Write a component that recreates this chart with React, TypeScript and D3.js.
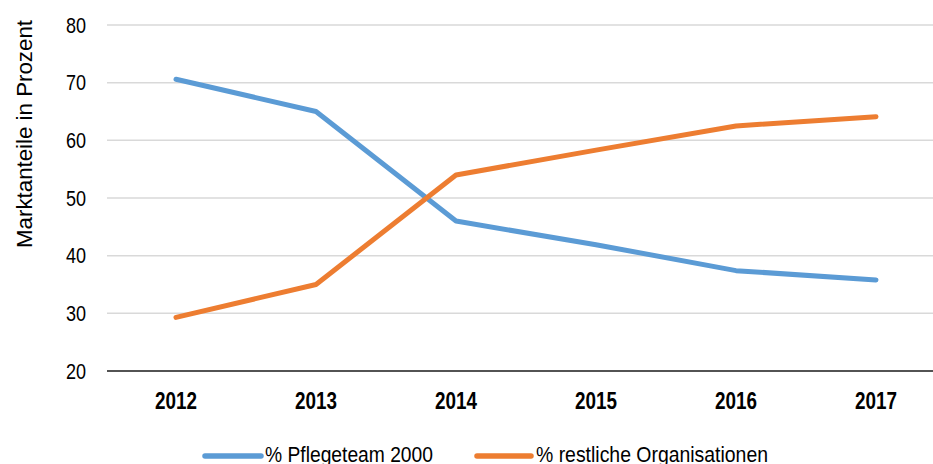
import React from "react";
import * as d3 from "d3";

const years = ["2012", "2013", "2014", "2015", "2016", "2017"];
const pflegeteam = [70.6, 65.0, 46.0, 41.9, 37.4, 35.8];
const restliche = [29.3, 35.0, 54.0, 58.3, 62.5, 64.1];
const yTicks = [20, 30, 40, 50, 60, 70, 80];
const seriesNames = ["% Pflegeteam 2000", "% restliche Organisationen"];
const colors = ["#5B9BD5", "#ED7D31"];

const W = 933;
const H = 464;
const FONT = "'Liberation Sans', Arial, sans-serif";
const SX = 0.82;

function NText({ x, y, anchor = "start", size = 22, bold = false, rotate = 0, len, children }: any) {
  return (
    <g transform={`translate(${x},${y}) rotate(${rotate}) scale(${len ? 1 : SX},1)`}>
      <text
        x={0}
        y={0}
        dy="0.35em"
        textAnchor={anchor}
        fontSize={size}
        fontWeight={bold ? "bold" : "normal"}
        fill="#000"
        textLength={len}
        lengthAdjust={len ? "spacingAndGlyphs" : undefined}
      >
        {children}
      </text>
    </g>
  );
}

export default function App() {
  const x = d3.scaleBand<string>().domain(years).range([106, 946]);
  const y = d3.scaleLinear().domain([20, 80]).range([371, 25]);
  const cx = (yr: string) => (x(yr) as number) + x.bandwidth() / 2;
  const line = d3
    .line<number>()
    .x((_, i) => cx(years[i]))
    .y((d) => y(d));
  const series = [pflegeteam, restliche];
  const legendLine = [
    [205, 261],
    [477, 531],
  ];
  const legendText = [
    [265, 168],
    [536, 232],
  ];
  return (
    <svg
      width={W}
      height={H}
      style={{ position: "absolute", left: 0, top: 0, background: "#fff" }}
      fontFamily={FONT}
    >
      {yTicks.map((t) =>
        t === 20 ? null : (
          <line key={t} x1={107} x2={W} y1={y(t)} y2={y(t)} stroke="#d9d9d9" strokeWidth={1.5} />
        )
      )}
      <line x1={107} x2={W} y1={y(20)} y2={y(20)} stroke="#1a1a1a" strokeWidth={1.5} />
      {yTicks.map((t) => (
        <NText key={t} x={86} y={y(t)} anchor="end">
          {t}
        </NText>
      ))}
      <NText x={24} y={134} anchor="middle" rotate={-90} len={228}>
        Marktanteile in Prozent
      </NText>
      {years.map((yr) => (
        <NText key={yr} x={cx(yr)} y={401} anchor="middle" size={23} bold>
          {yr}
        </NText>
      ))}
      {series.map((s, i) => (
        <path
          key={i}
          d={line(s) as string}
          fill="none"
          stroke={colors[i]}
          strokeWidth={5}
          strokeLinecap="round"
          strokeLinejoin="round"
        />
      ))}
      {seriesNames.map((n, i) => (
        <g key={n}>
          <line
            x1={legendLine[i][0]}
            x2={legendLine[i][1]}
            y1={456}
            y2={456}
            stroke={colors[i]}
            strokeWidth={5.5}
            strokeLinecap="round"
          />
          <NText x={legendText[i][0]} y={454} len={legendText[i][1]}>
            {n}
          </NText>
        </g>
      ))}
    </svg>
  );
}
